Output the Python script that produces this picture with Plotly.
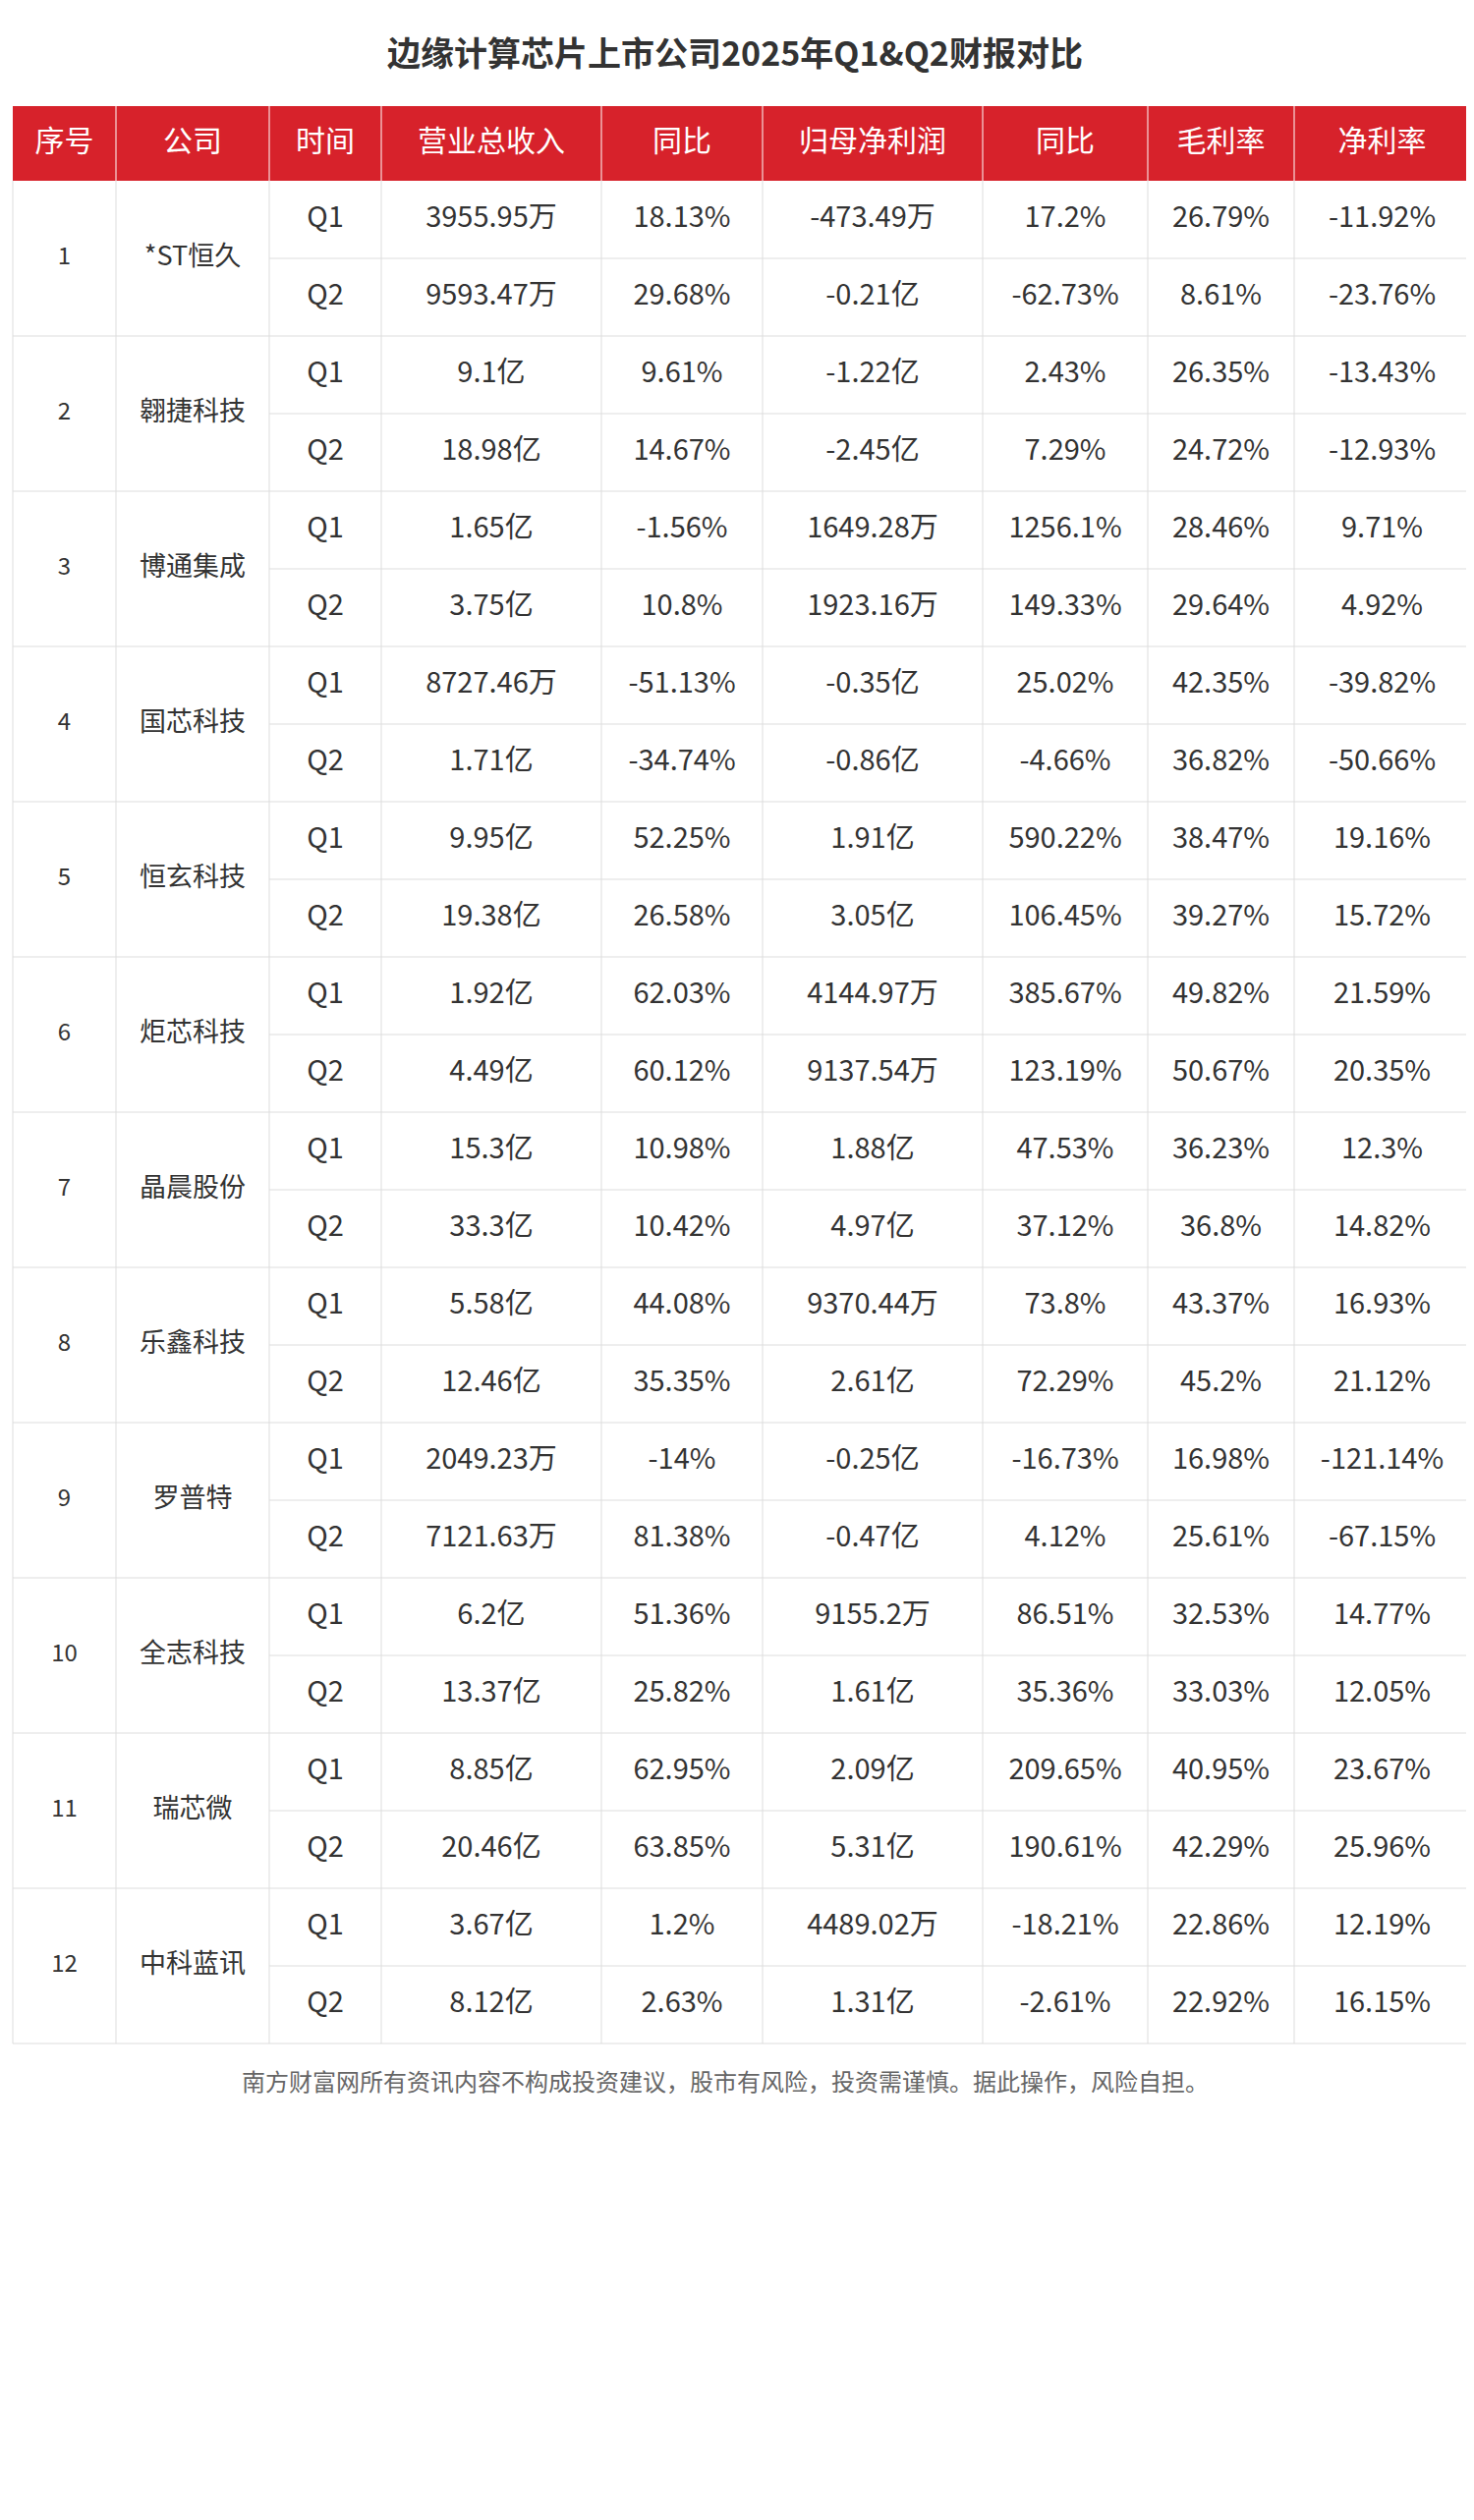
import plotly.graph_objects as go

title = "边缘计算芯片上市公司2025年Q1&Q2财报对比"
headers = ["序号", "公司", "时间", "营业总收入", "同比", "归母净利润", "同比", "毛利率", "净利率"]
companies = ["*ST恒久", "翱捷科技", "博通集成", "国芯科技", "恒玄科技", "炬芯科技", "晶晨股份", "乐鑫科技", "罗普特", "全志科技", "瑞芯微", "中科蓝讯"]
periods = ["Q1", "Q2"]
revenue = ["3955.95万", "9593.47万", "9.1亿", "18.98亿", "1.65亿", "3.75亿", "8727.46万", "1.71亿", "9.95亿", "19.38亿",
           "1.92亿", "4.49亿", "15.3亿", "33.3亿", "5.58亿", "12.46亿", "2049.23万", "7121.63万", "6.2亿", "13.37亿",
           "8.85亿", "20.46亿", "3.67亿", "8.12亿"]
rev_yoy = ["18.13%", "29.68%", "9.61%", "14.67%", "-1.56%", "10.8%", "-51.13%", "-34.74%", "52.25%", "26.58%",
           "62.03%", "60.12%", "10.98%", "10.42%", "44.08%", "35.35%", "-14%", "81.38%", "51.36%", "25.82%",
           "62.95%", "63.85%", "1.2%", "2.63%"]
profit = ["-473.49万", "-0.21亿", "-1.22亿", "-2.45亿", "1649.28万", "1923.16万", "-0.35亿", "-0.86亿", "1.91亿", "3.05亿",
          "4144.97万", "9137.54万", "1.88亿", "4.97亿", "9370.44万", "2.61亿", "-0.25亿", "-0.47亿", "9155.2万", "1.61亿",
          "2.09亿", "5.31亿", "4489.02万", "1.31亿"]
profit_yoy = ["17.2%", "-62.73%", "2.43%", "7.29%", "1256.1%", "149.33%", "25.02%", "-4.66%", "590.22%", "106.45%",
              "385.67%", "123.19%", "47.53%", "37.12%", "73.8%", "72.29%", "-16.73%", "4.12%", "86.51%", "35.36%",
              "209.65%", "190.61%", "-18.21%", "-2.61%"]
gross = ["26.79%", "8.61%", "26.35%", "24.72%", "28.46%", "29.64%", "42.35%", "36.82%", "38.47%", "39.27%",
         "49.82%", "50.67%", "36.23%", "36.8%", "43.37%", "45.2%", "16.98%", "25.61%", "32.53%", "33.03%",
         "40.95%", "42.29%", "22.86%", "22.92%"]
net = ["-11.92%", "-23.76%", "-13.43%", "-12.93%", "9.71%", "4.92%", "-39.82%", "-50.66%", "19.16%", "15.72%",
       "21.59%", "20.35%", "12.3%", "14.82%", "16.93%", "21.12%", "-121.14%", "-67.15%", "14.77%", "12.05%",
       "23.67%", "25.96%", "12.19%", "16.15%"]
footer = "南方财富网所有资讯内容不构成投资建议，股市有风险，投资需谨慎。据此操作，风险自担。"

W, H = 1500, 2565
colx = [5, 110, 266, 380, 604, 768, 992, 1160, 1309, 1488]
top, hh, rh = 100, 76, 79.0
red = "#d7222b"
grid = "#dddddd"
font = "Noto Sans CJK SC"

fig = go.Figure()
shapes = []
nrows = len(revenue)
bottom = top + hh + rh * nrows
shapes.append(dict(type="rect", x0=colx[0], x1=colx[-1], y0=top, y1=top + hh, fillcolor=red, line_width=0, layer="below"))
for x in colx[1:-1]:
    shapes.append(dict(type="line", x0=x, x1=x, y0=top, y1=top + hh, line=dict(color="white", width=1)))
for x in colx:
    shapes.append(dict(type="line", x0=x, x1=x, y0=top + hh, y1=bottom, line=dict(color=grid, width=1)))
for r in range(1, nrows + 1):
    y = top + hh + rh * r
    x0 = colx[0] if r % 2 == 0 else colx[2]
    shapes.append(dict(type="line", x0=x0, x1=colx[-1], y0=y, y1=y, line=dict(color=grid, width=1)))

cx = [(colx[i] + colx[i + 1]) / 2 for i in range(len(colx) - 1)]
fig.add_trace(go.Scatter(x=cx, y=[top + hh / 2] * len(cx), text=headers, mode="text",
                         textfont=dict(color="white", size=30, family=font), hoverinfo="skip"))
ys_c = [top + hh + rh * (2 * i + 1) for i in range(len(companies))]
fig.add_trace(go.Scatter(x=[cx[0]] * len(companies), y=ys_c, text=[str(i + 1) for i in range(len(companies))],
                         mode="text", textfont=dict(color="#333", size=24, family=font), hoverinfo="skip"))
fig.add_trace(go.Scatter(x=[cx[1]] * len(companies), y=ys_c, text=companies,
                         mode="text", textfont=dict(color="#333", size=27, family=font), hoverinfo="skip"))
ys = [top + hh + rh * (r + 0.5) for r in range(nrows)]
cols = [[periods[r % 2] for r in range(nrows)], revenue, rev_yoy, profit, profit_yoy, gross, net]
for j, col in enumerate(cols):
    fig.add_trace(go.Scatter(x=[cx[j + 2]] * nrows, y=ys, text=col, mode="text",
                             textfont=dict(color="#333", size=29, family=font), hoverinfo="skip"))

fig.add_trace(go.Scatter(x=[W / 2 - 10], y=[50], text=["<b>" + title + "</b>"], mode="text",
                         textfont=dict(color="#333", size=34, family=font), hoverinfo="skip"))
fig.add_trace(go.Scatter(x=[W / 2 - 20], y=[bottom + 42], text=[footer], mode="text",
                         textfont=dict(color="#666", size=24, family=font), hoverinfo="skip"))

fig.update_layout(width=W, height=H, margin=dict(l=0, r=0, t=0, b=0), showlegend=False,
                  plot_bgcolor="white", paper_bgcolor="white", shapes=shapes,
                  xaxis=dict(range=[0, W], visible=False, fixedrange=True),
                  yaxis=dict(range=[H, 0], visible=False, fixedrange=True))
fig.write_html("out.html")
